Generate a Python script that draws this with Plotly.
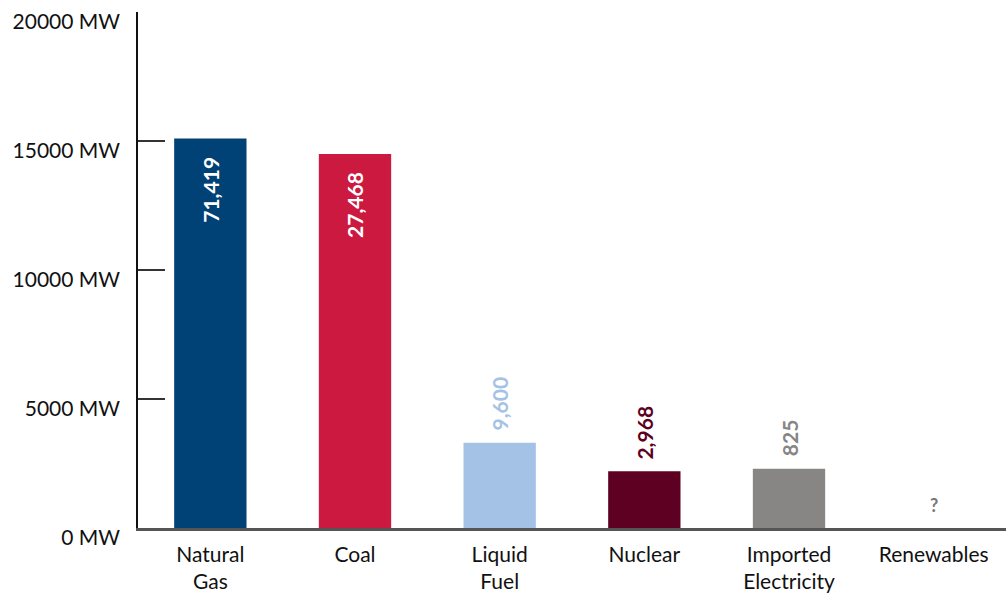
import plotly.graph_objects as go

categories = ["Natural<br>Gas", "Coal", "Liquid<br>Fuel", "Nuclear", "Imported<br>Electricity", "Renewables"]
values = [15100, 14500, 3300, 2200, 2300, 0]
labels = ["71,419", "27,468", "9,600", "2,968", "825", "?"]
bar_colors = ["#004276", "#CC1940", "#A4C2E5", "#5E0022", "#878685", "#878685"]
label_colors = ["#FFFFFF", "#FFFFFF", "#A4C2E5", "#5E0022", "#878685", "#777777"]
label_inside = [True, True, False, False, False, False]
tick_vals = [0, 5000, 10000, 15000, 20000]
tick_text = ["0 MW", "5000 MW", "10000 MW", "15000 MW", "20000 MW"]

FONT = "Lato"

fig = go.Figure()
fig.add_trace(go.Bar(x=categories, y=values, marker=dict(color=bar_colors, line=dict(width=0)),
                     hoverinfo="skip"))

for c, v, t, col, ins in zip(categories, values, labels, label_colors, label_inside):
    angle = 0 if t == "?" else -90
    if ins:
        fig.add_annotation(x=c, y=v, text="<b>%s</b>" % t, textangle=angle, showarrow=False,
                           yanchor="top", yshift=-16, font=dict(family=FONT, size=21, color=col))
    else:
        fig.add_annotation(x=c, y=v, text="<b>%s</b>" % t, textangle=angle, showarrow=False,
                           yanchor="bottom", yshift=10, font=dict(family=FONT, size=21 if angle else 18, color=col))

fig.update_layout(
    width=1006, height=599,
    margin=dict(l=138, r=0, t=12, b=71),
    plot_bgcolor="white", paper_bgcolor="white",
    bargap=0.5, showlegend=False,
    font=dict(family=FONT, size=21, color="#111111"),
)
fig.update_yaxes(range=[0, 20000], tickvals=tick_vals, ticktext=tick_text,
                 showgrid=False, zeroline=False, showline=True, linecolor="#111111", linewidth=1.5,
                 ticks="inside", ticklen=27, tickcolor="#333333", tickwidth=1.5,
                 ticklabelstandoff=12, ticklabelshift=10,
                 tickfont=dict(family=FONT, size=21, color="#111111"))
fig.update_xaxes(showgrid=False, zeroline=False, showline=True, linecolor="#555555", linewidth=2.5,
                 ticks="", ticklabelstandoff=6, tickfont=dict(family=FONT, size=21, color="#111111"))

fig.write_html("out.html")
